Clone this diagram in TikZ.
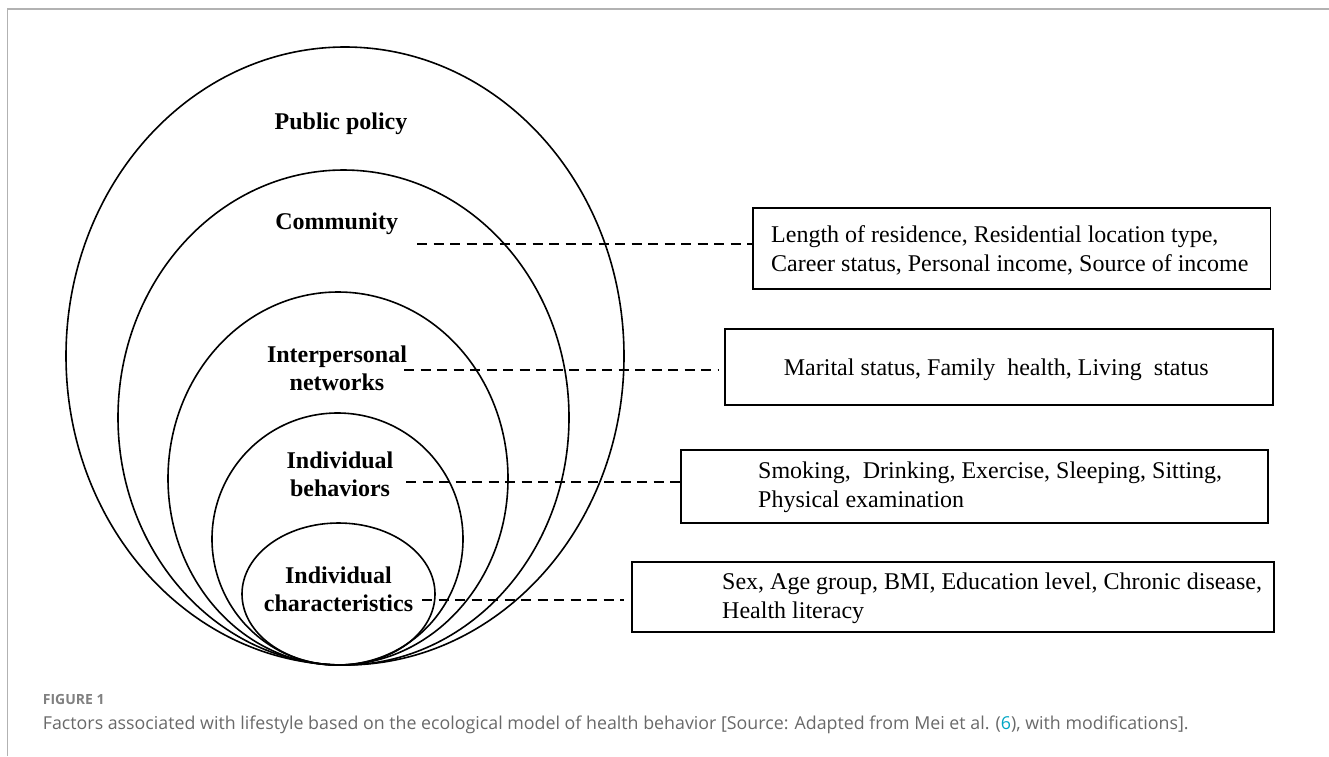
\documentclass[tikz,border=0pt]{standalone}
\usepackage{fontspec}
\setmainfont{Liberation Serif}
\newfontfamily\capfont{Open Sans}
\definecolor{framegray}{RGB}{178,178,178}
\definecolor{capgray}{RGB}{105,105,105}
\definecolor{linkteal}{RGB}{0,166,196}
\tikzset{
  ring/.style={draw=black, line width=1.6pt},
  lbl/.style={font=\fontsize{24}{28}\selectfont\bfseries, align=center, anchor=base, inner sep=0pt},
  factbox/.style={draw=black, line width=1.7pt, minimum width=#1, inner sep=0pt},
  facttext/.style={font=\fontsize{24}{29}\selectfont, align=left, anchor=base west, inner sep=0pt},
  link/.style={draw=black, line width=1.6pt, dash pattern=on 10pt off 6.5pt}
}
\begin{document}
\begin{tikzpicture}[x=1pt,y=-1pt]
\useasboundingbox (0,0) rectangle (1329,756);
% frame
\draw[framegray, line width=1.5pt] (7.5,756) -- (7.5,9) -- (1329,9);
% ellipses
\draw[ring] (345,356) ellipse [x radius=279pt, y radius=309pt];
\draw[ring] (343.5,417.5) ellipse [x radius=225.5pt, y radius=247.5pt];
\draw[ring] (338,478.5) ellipse [x radius=170pt, y radius=186.5pt];
\draw[ring] (337.5,539) ellipse [x radius=125.5pt, y radius=126pt];
\draw[ring] (338.5,594) ellipse [x radius=96.5pt, y radius=71pt];
% labels (multi-line nodes are placed at the baseline of their last line)
\node[lbl] (pp) at (341,129) {Public policy};
\node[lbl] (cm) at (336.7,229) {Community};
\node[lbl] (ip) at (337,390.7) {Interpersonal\\networks};
\node[lbl] (ib) at (340,496.7) {Individual\\behaviors};
\node[lbl] (ic) at (338.5,611.7) {Individual\\characteristics};
% boxes
\node[factbox=517.5pt, minimum height=81pt] (b1) at (1011.75,248.5) {};
\node[factbox=548pt, minimum height=76pt] (b2) at (999,367) {};
\node[factbox=587pt, minimum height=73pt] (b3) at (974.5,486.5) {};
\node[factbox=642pt, minimum height=70pt] (b4) at (953,597) {};
% box texts
\node[facttext] (t1) at (771,271) {Length of residence, Residential location type,\\Career status, Personal income, Source of income};
\node[facttext] (t2) at (783.7,375) {Marital status, Family\ \ health, Living\ \ status};
\node[facttext] (t3) at (758,507) {Smoking,\ \ Drinking, Exercise, Sleeping, Sitting,\\Physical examination};
\node[facttext] (t4) at (722,618) {Sex, Age group, BMI, Education level, Chronic disease,\\Health literacy};
% dashed connectors
\coordinate (d1) at (417,244);
\coordinate (d2) at (404,370);
\coordinate (d3) at (406,482);
\coordinate (d4) at (422,600);
\draw[link] (d1) -- (d1 -| b1.west);
\draw[link, shorten >=6pt] (d2) -- (d2 -| b2.west);
\draw[link] (d3) -- (d3 -| b3.west);
\draw[link, shorten >=7pt] (d4) -- (d4 -| b4.west);
% caption
\node[anchor=base west, inner sep=0pt, text=capgray!85, font=\capfont\fontsize{14}{16}\selectfont\bfseries] (fig) at (42.7,704) {FIGURE 1};
\node[anchor=base west, inner sep=0pt, text=capgray, font=\capfont\fontsize{17.8}{21}\selectfont] (cap) at (42.7,729.3) {Factors associated with lifestyle based on the ecological model of health behavior [Source: Adapted from Mei et al. ({\color{linkteal}6}), with modifications].};
\end{tikzpicture}
\end{document}
